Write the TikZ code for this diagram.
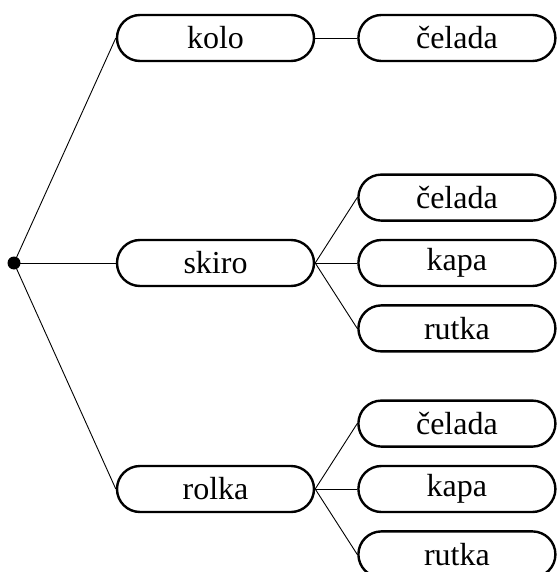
\documentclass[tikz,border=0pt]{standalone}
\usepackage{fontspec}
\setmainfont{Liberation Serif}
\usetikzlibrary{shapes.misc}
\usetikzlibrary{positioning}

\begin{document}
\begin{tikzpicture}[x=1pt, y=-1pt,
        box/.style={rounded rectangle, draw, line width=2.4pt, minimum width=197pt,
            minimum height=46pt, inner sep=0pt, font=\fontsize{32}{38}\selectfont},
        link/.style={line width=0.9pt},
        node distance=17pt and 42pt]
        \useasboundingbox (0,0) rectangle (556,572);

        % Root point
        \node[circle, fill, inner sep=0pt, minimum size=13pt] (root) at (14,263) {};

        % First level
        \node[box] (kolo) at (215.5,38) {kolo};
        \node[box] (skiro) at (215.5,263) {skiro};
        \node[box] (rolka) at (215.5,489) {rolka};

        % Second level
        \node[box, right=of kolo] (kolo-celada) {čelada};

        \node[box, right=of skiro] (skiro-kapa) {kapa};
        \node[box, above=of skiro-kapa] (skiro-celada) {čelada};
        \node[box, below=of skiro-kapa] (skiro-rutka) {rutka};

        \node[box, right=of rolka] (rolka-kapa) {kapa};
        \node[box, above=of rolka-kapa] (rolka-celada) {čelada};
        \node[box, below=of rolka-kapa] (rolka-rutka) {rutka};

        % Connectors
        \foreach \b in {kolo,skiro,rolka} {
            \draw[link] (root.center) -- (\b.west);
        }
        \draw[link] (kolo.east) -- (kolo-celada.west);
        \foreach \p in {skiro,rolka} {
            \foreach \c in {celada,kapa,rutka} {
                \draw[link] (\p.east) -- (\p-\c.west);
            }
        }
    \end{tikzpicture}
\end{document}
